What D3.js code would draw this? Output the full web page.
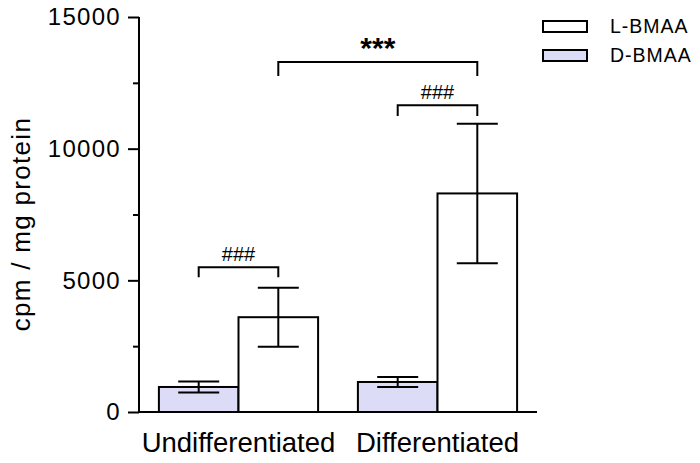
<!DOCTYPE html>
<html>
<head>
<meta charset="utf-8">
<script src="https://cdn.jsdelivr.net/npm/d3@7"></script>
<style>
  html, body { margin: 0; padding: 0; background: #fff; }
  svg { display: block; font-family: Arial, "Liberation Sans", sans-serif; }
</style>
</head>
<body>
<svg id="chart" width="700" height="463"></svg>
<script>
// ---- data ----
const categories = ["Undifferentiated", "Differentiated"];
const seriesNames = ["D-BMAA", "L-BMAA"];
const dMeans = [950, 1140];
const dErrors = [210, 190];
const lMeans = [3600, 8300];
const lErrors = [1120, 2650];
const yTicks = [0, 5000, 10000, 15000];
const yMinorTicks = [2500, 7500, 12500];
const legendOrder = ["L-BMAA", "D-BMAA"];
// significance brackets: [catA, seriesA, catB, seriesB, barY, legY, label]
const bracketFrom = [[0, 0], [1, 0], [0, 1]];
const bracketTo   = [[0, 1], [1, 1], [1, 1]];
const bracketTop  = [5500, 11650, 13290];
const bracketLeg  = [5120, 11240, 12760];
const bracketLabels = ["###", "###", "***"];

// ---- layout ----
const svg = d3.select("#chart");
const x0 = d3.scaleBand().domain(categories).range([139, 537]).paddingInner(0.2).paddingOuter(0.1);
const x1 = d3.scaleBand().domain(seriesNames).range([0, x0.bandwidth()]);
const y = d3.scaleLinear().domain([0, 15000]).range([412, 17]);
const fills = { "D-BMAA": "#dcdcf6", "L-BMAA": "#ffffff" };

const rows = [];
categories.forEach((c, i) => {
  rows.push({ cat: c, s: "D-BMAA", v: dMeans[i], e: dErrors[i] });
  rows.push({ cat: c, s: "L-BMAA", v: lMeans[i], e: lErrors[i] });
});
const cx = (cat, s) => x0(cat) + x1(s) + x1.bandwidth() / 2;

// bars
svg.append("g").selectAll("rect").data(rows).join("rect")
  .attr("x", d => x0(d.cat) + x1(d.s))
  .attr("y", d => y(d.v))
  .attr("width", x1.bandwidth())
  .attr("height", d => y(0) - y(d.v))
  .attr("fill", d => fills[d.s])
  .attr("stroke", "#000")
  .attr("stroke-width", 2);

// error bars
const capW = 41;
const eg = svg.append("g").attr("stroke", "#000").attr("stroke-width", 2);
rows.forEach(d => {
  const c = cx(d.cat, d.s);
  eg.append("line").attr("x1", c).attr("x2", c).attr("y1", y(d.v + d.e)).attr("y2", y(d.v - d.e));
  eg.append("line").attr("x1", c - capW / 2).attr("x2", c + capW / 2).attr("y1", y(d.v + d.e)).attr("y2", y(d.v + d.e));
  eg.append("line").attr("x1", c - capW / 2).attr("x2", c + capW / 2).attr("y1", y(d.v - d.e)).attr("y2", y(d.v - d.e));
});

// y axis
const yAxis = d3.axisLeft(y).tickValues(yTicks).tickSize(11).tickPadding(7).tickFormat(d3.format("d"));
const ya = svg.append("g").attr("transform", "translate(139,0)").call(yAxis);
ya.select(".domain").attr("stroke", "#000").attr("stroke-width", 2).attr("d", `M0,${y(15000)}V${y(0)}`);
ya.selectAll(".tick line").attr("stroke", "#000").attr("stroke-width", 2);
ya.selectAll(".tick text").attr("font-size", 24).attr("letter-spacing", 1.3).attr("fill", "#000")
  .attr("font-family", "Arial, 'Liberation Sans', sans-serif");
const ym = svg.append("g").attr("transform", "translate(139,0)")
  .call(d3.axisLeft(y).tickValues(yMinorTicks).tickSize(6).tickFormat(""));
ym.select(".domain").remove();
ym.selectAll(".tick line").attr("stroke", "#000").attr("stroke-width", 2);

// x axis baseline
const xa = svg.append("g").attr("transform", `translate(0,${y(0)})`)
  .call(d3.axisBottom(x0).tickSize(0).tickPadding(20));
xa.select(".domain").attr("stroke", "#000").attr("stroke-width", 2).attr("d", "M139,0H537");
xa.selectAll(".tick text").attr("font-size", 27.5).attr("fill", "#000")
  .attr("font-family", "Arial, 'Liberation Sans', sans-serif").attr("dy", "0.71em");

// y title
svg.append("text")
  .attr("transform", `translate(30,${(113 + 335) / 2}) rotate(-90)`)
  .attr("text-anchor", "middle")
  .attr("font-size", 26)
  .attr("letter-spacing", 1.3)
  .text("cpm / mg protein");

// brackets
const bg = svg.append("g");
bracketFrom.forEach((f, i) => {
  const t = bracketTo[i];
  const xa_ = cx(categories[f[0]], seriesNames[f[1]]);
  const xb_ = cx(categories[t[0]], seriesNames[t[1]]);
  bg.append("path")
    .attr("d", `M${xa_},${y(bracketLeg[i])}V${y(bracketTop[i])}H${xb_}V${y(bracketLeg[i])}`)
    .attr("fill", "none").attr("stroke", "#000").attr("stroke-width", 2);
  const isStar = bracketLabels[i] === "***";
  bg.append("text")
    .attr("x", (xa_ + xb_) / 2)
    .attr("y", y(bracketTop[i]) - (isStar ? 4 : 6))
    .attr("text-anchor", "middle")
    .attr("font-size", isStar ? 30 : 20)
    .attr("font-weight", isStar ? "bold" : "normal")
    .text(bracketLabels[i]);
});

// legend
const lg = svg.append("g");
legendOrder.forEach((s, i) => {
  const yy = 21 + i * 29;
  lg.append("rect").attr("x", 543).attr("y", yy).attr("width", 44).attr("height", 11)
    .attr("fill", fills[s]).attr("stroke", "#000").attr("stroke-width", 2);
  lg.append("text").attr("x", 610).attr("y", yy + 12).attr("font-size", 19.5)
    .attr("letter-spacing", 1).text(s);
});
</script>
</body>
</html>
